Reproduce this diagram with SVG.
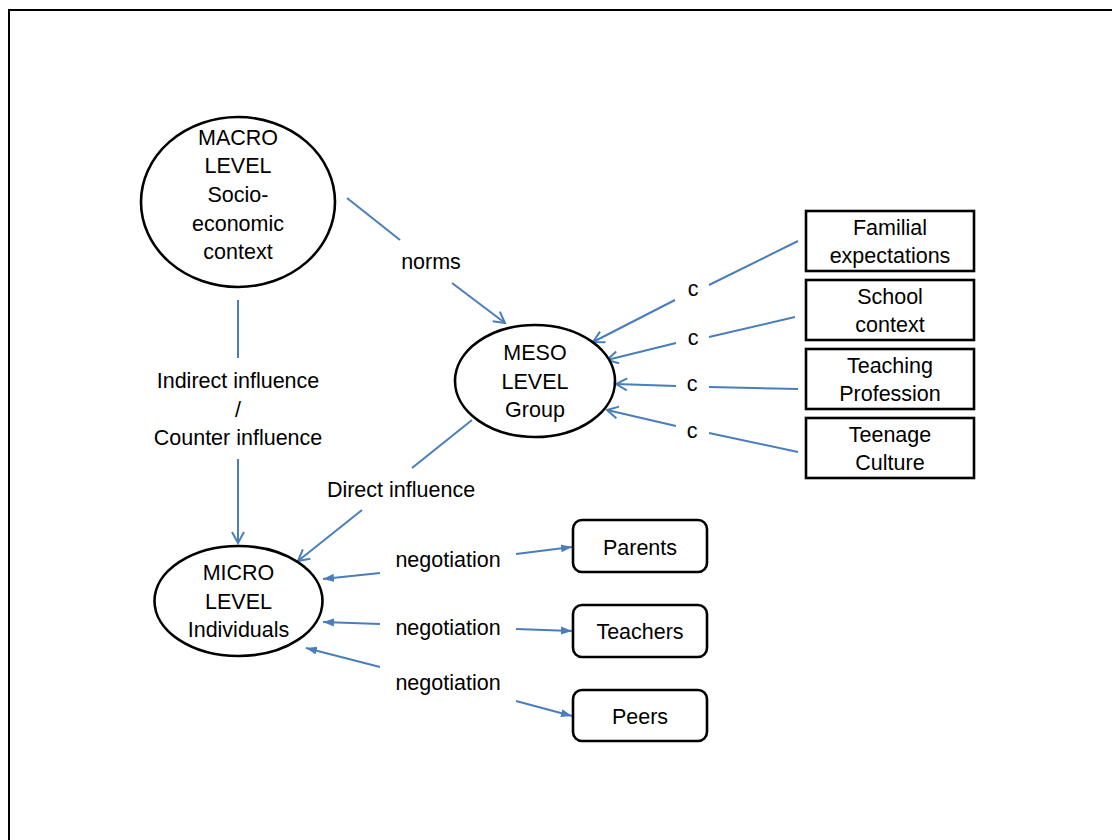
<svg xmlns="http://www.w3.org/2000/svg" width="1112" height="840" viewBox="0 0 1112 840">
<defs>
<style>
text{font-family:"Liberation Sans",Arial,sans-serif;font-size:21.5px;fill:#000;text-anchor:middle}
.node{fill:#fff;stroke:#000;stroke-width:2.6}
.c{stroke:#4a7ebb;stroke-width:2;fill:none}
.o{marker-end:url(#open)}
.f{marker-end:url(#fill)}
</style>
<marker id="open" markerWidth="14" markerHeight="14" refX="12" refY="7" orient="auto" markerUnits="userSpaceOnUse">
<path d="M1,1 L12,7 L1,13" fill="none" stroke="#4a7ebb" stroke-width="2"/>
</marker>
<marker id="fill" markerWidth="12" markerHeight="10" refX="11" refY="5" orient="auto" markerUnits="userSpaceOnUse">
<path d="M0,1 L11,5 L0,9 Z" fill="#4a7ebb"/>
</marker>
</defs>
<rect width="1112" height="840" fill="#fff"/>
<path d="M9,840 L9,10 L1112,10" fill="none" stroke="#000" stroke-width="2"/>

<g id="connectors">
<line class="c" x1="347" y1="198" x2="400" y2="240"/>
<line class="c o" x1="452" y1="283" x2="505" y2="323"/>
<line class="c" x1="238" y1="300" x2="238" y2="358"/>
<line class="c o" x1="238" y1="459" x2="238" y2="543"/>
<line class="c" x1="472" y1="420" x2="412" y2="468"/>
<line class="c o" x1="362" y1="510" x2="298" y2="561"/>
<line class="c" x1="798" y1="241" x2="709" y2="285"/>
<line class="c o" x1="675" y1="300" x2="593" y2="342"/>
<line class="c" x1="795" y1="317" x2="709" y2="337"/>
<line class="c o" x1="676" y1="343" x2="607" y2="360"/>
<line class="c" x1="798" y1="389" x2="709" y2="387"/>
<line class="c o" x1="676" y1="386" x2="616" y2="384"/>
<line class="c" x1="798" y1="452" x2="709" y2="433"/>
<line class="c o" x1="676" y1="426" x2="607" y2="410"/>
<line class="c f" x1="380" y1="573" x2="323" y2="579"/>
<line class="c f" x1="516" y1="554" x2="572" y2="547"/>
<line class="c f" x1="380" y1="624" x2="323" y2="622"/>
<line class="c f" x1="516" y1="629" x2="572" y2="631"/>
<line class="c f" x1="380" y1="667" x2="306" y2="648"/>
<line class="c f" x1="516" y1="701" x2="572" y2="716"/>
<text x="431" y="269">norms</text>
<text x="238" y="388">Indirect influence</text>
<text x="238" y="417">/</text>
<text x="238" y="445">Counter influence</text>
<text x="401" y="497">Direct influence</text>
<text x="693" y="296">c</text>
<text x="693" y="345">c</text>
<text x="692" y="391">c</text>
<text x="692" y="438">c</text>
<text x="448" y="567">negotiation</text>
<text x="448" y="635">negotiation</text>
<text x="448" y="690">negotiation</text>
</g>

<g id="macro">
<ellipse class="node" cx="238" cy="202" rx="97" ry="85"/>
<text x="238" y="145">MACRO</text>
<text x="238" y="173">LEVEL</text>
<text x="238" y="202">Socio-</text>
<text x="238" y="231">economic</text>
<text x="238" y="259">context</text>
</g>

<g id="meso">
<ellipse class="node" cx="535" cy="381" rx="80" ry="56"/>
<text x="535" y="360">MESO</text>
<text x="535" y="389">LEVEL</text>
<text x="535" y="417">Group</text>
</g>

<g id="micro">
<ellipse class="node" cx="238.5" cy="601" rx="84" ry="55"/>
<text x="238.5" y="580">MICRO</text>
<text x="238.5" y="609">LEVEL</text>
<text x="238.5" y="637">Individuals</text>
</g>

<g id="familial">
<rect class="node" x="806" y="211" width="168" height="60"/>
<text x="890" y="235">Familial</text>
<text x="890" y="263">expectations</text>
</g>
<g id="school">
<rect class="node" x="806" y="280" width="168" height="60"/>
<text x="890" y="304">School</text>
<text x="890" y="332">context</text>
</g>
<g id="teaching">
<rect class="node" x="806" y="349" width="168" height="60"/>
<text x="890" y="373">Teaching</text>
<text x="890" y="401">Profession</text>
</g>
<g id="teenage">
<rect class="node" x="806" y="418" width="168" height="60"/>
<text x="890" y="442">Teenage</text>
<text x="890" y="470">Culture</text>
</g>

<g id="parents">
<rect class="node" x="573" y="520" width="134" height="52" rx="9"/>
<text x="640" y="555">Parents</text>
</g>
<g id="teachers">
<rect class="node" x="573" y="605" width="134" height="52" rx="9"/>
<text x="640" y="639">Teachers</text>
</g>
<g id="peers">
<rect class="node" x="573" y="690" width="134" height="51" rx="9"/>
<text x="640" y="724">Peers</text>
</g>
</svg>
